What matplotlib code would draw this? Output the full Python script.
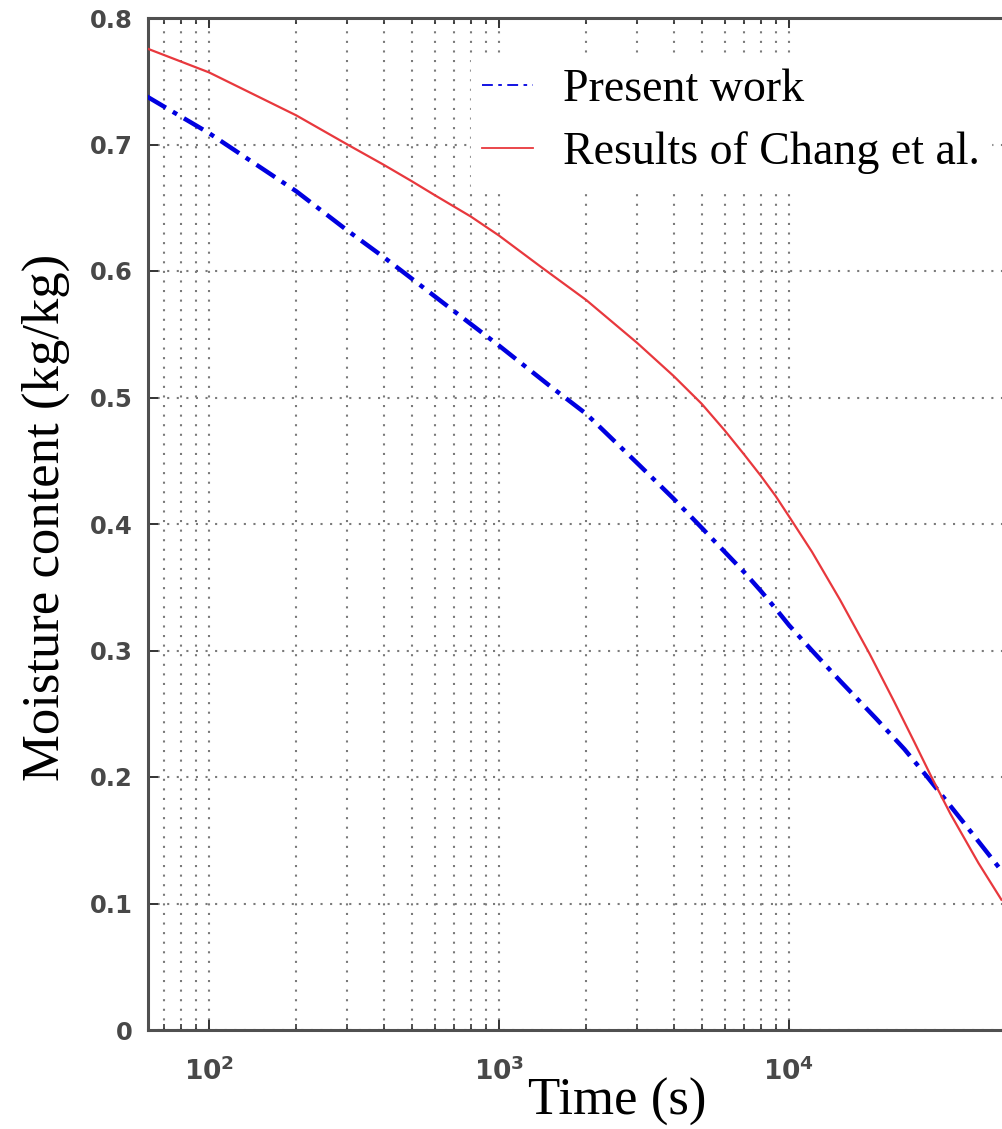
import matplotlib
matplotlib.use("Agg")
import matplotlib.pyplot as plt
from matplotlib.ticker import FixedLocator, FuncFormatter, NullFormatter
import numpy as np

# ---- data ----
t_present = [61, 100, 200, 300, 400, 500, 600, 800, 1000, 1500, 2000, 3000, 4000,
             5000, 6000, 7000, 8000, 9000, 10000, 12000, 15000, 20000, 25000, 30000,
             40000, 54000]
m_present = [0.738, 0.709, 0.663, 0.632, 0.611, 0.594, 0.580, 0.558, 0.541, 0.509,
             0.487, 0.448, 0.420, 0.397, 0.378, 0.362, 0.347, 0.333, 0.320, 0.300,
             0.276, 0.246, 0.222, 0.200, 0.164, 0.126]

t_chang = [61, 100, 200, 300, 400, 500, 600, 800, 1000, 1400, 2000, 3000, 4000, 5000,
           6000, 7000, 8000, 9000, 10000, 12000, 15000, 19000, 23000, 27000, 31000,
           36000, 45000, 54000]
m_chang = [0.776, 0.757, 0.723, 0.700, 0.684, 0.671, 0.660, 0.643, 0.628, 0.603,
           0.577, 0.543, 0.517, 0.495, 0.474, 0.455, 0.438, 0.422, 0.406, 0.378,
           0.340, 0.297, 0.260, 0.228, 0.200, 0.171, 0.132, 0.103]

series_labels = ["Present work", "Results of Chang et al."]
x_major = [100, 1000, 10000]
x_minor = [70, 80, 90, 200, 300, 400, 500, 600, 700, 800, 900,
           2000, 3000, 4000, 5000, 6000, 7000, 8000, 9000]
y_ticks = [0, 0.1, 0.2, 0.3, 0.4, 0.5, 0.6, 0.7, 0.8]

W, H = 1002, 1129
fig = plt.figure(figsize=(W / 100, H / 100), dpi=100)
ax = fig.add_axes([148 / W, (H - 1030) / H, (1079 - 148) / W, (1030 - 18) / H])

ax.plot(t_present, m_present, color="#0000e0", lw=3.2,
        linestyle=(0, (5.0, 1.8, 1.1, 1.8)), label=series_labels[0], zorder=3)
ax.plot(t_chang, m_chang, color="#e8383d", lw=1.6, label=series_labels[1], zorder=3)

ax.set_xscale("log")
ax.set_xlim(61.6, 1e5)
ax.set_ylim(0, 0.8)

ax.xaxis.set_major_locator(FixedLocator(x_major))
ax.xaxis.set_minor_locator(FixedLocator(x_minor))
ax.xaxis.set_major_formatter(
    FuncFormatter(lambda v, p: r"$\mathbf{10^{%d}}$" % int(round(np.log10(v)))))
ax.xaxis.set_minor_formatter(NullFormatter())
ax.yaxis.set_major_locator(FixedLocator(y_ticks))
ax.set_yticklabels(["0" if v == 0 else f"{v:.1f}" for v in y_ticks])

grid_kw = dict(color="#7a7a7a", linestyle=(0, (1, 3.6)), linewidth=1.5)
ax.grid(True, which="both", axis="x", **grid_kw)
ax.grid(True, which="major", axis="y", **grid_kw)
ax.set_axisbelow(True)

ax.tick_params(which="both", direction="in", top=True, right=True, color="#333333")
ax.tick_params(which="major", length=7, width=1.4)
ax.tick_params(which="minor", length=4, width=1.2)
ax.tick_params(axis="y", labelsize=17.5, labelcolor="#484848", pad=11)
ax.tick_params(axis="x", labelsize=19, labelcolor="#484848", pad=20)
for lab in ax.get_yticklabels():
    lab.set_fontweight("bold")

for s in ax.spines.values():
    s.set_color("#505050")
    s.set_linewidth(2.2)

ax.set_xlabel("Time (s)", family="Liberation Serif", fontsize=38)
ax.xaxis.set_label_coords((617 - 148) / 931, (1030 - 1078) / 1012)
ax.set_ylabel("Moisture content (kg/kg)", family="Liberation Serif", fontsize=38)
ax.yaxis.set_label_coords((70 - 148) / 931, (1030 - 517) / 1012)

leg = ax.legend(loc="upper left", bbox_to_anchor=(471 / W, 1 - 57 / H),
                bbox_transform=fig.transFigure, borderaxespad=0, borderpad=0.25,
                prop={"family": "Liberation Serif", "size": 33},
                frameon=True, fancybox=False, edgecolor="white", facecolor="white",
                framealpha=1, handlelength=1.1, handletextpad=0.65, labelspacing=0.45)
for ln in leg.get_lines():
    ln.set_linewidth(1.3)
leg.get_lines()[0].set_linestyle((0, (6, 3, 2, 3)))

fig.savefig("out.png", dpi=100)
